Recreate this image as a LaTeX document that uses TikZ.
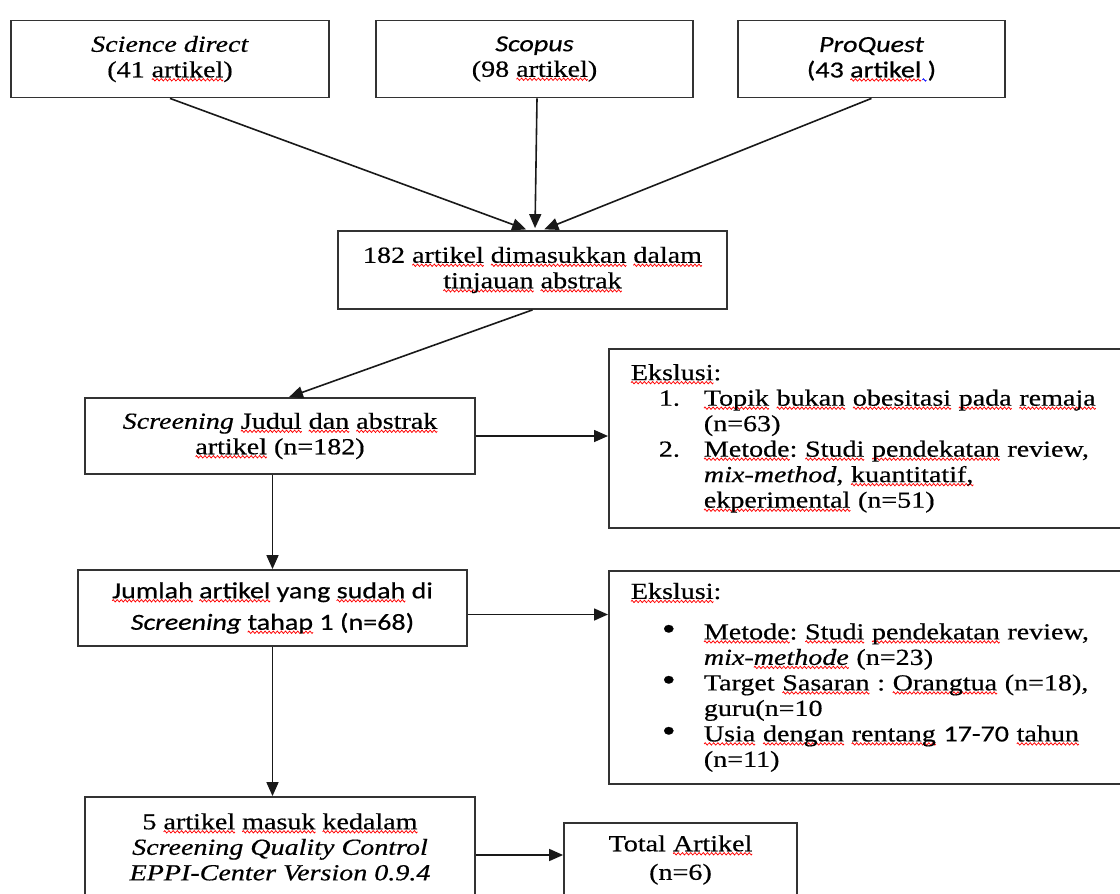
\documentclass[tikz,border=0pt]{standalone}
\usepackage{fontspec}
\setmainfont{Liberation Serif}[FakeStretch=1.22,FakeBold=0.5]
\newfontfamily\sans{Carlito}[FakeStretch=1.22,FakeBold=0.5]
\usepackage{xcolor}
\usetikzlibrary{arrows.meta}
\usetikzlibrary{calc}
\frenchspacing

\newsavebox\wvr
\newsavebox\wvb
\newsavebox\wvt
\newcommand{\wavepiece}[1]{\begin{pgfpicture}
  \pgfpathrectangle{\pgfpoint{0pt}{-1pt}}{\pgfpoint{4pt}{2pt}}\pgfusepath{use as bounding box}
  \pgfsetcolor{#1}\pgfsetlinewidth{0.75pt}
  \pgfpathmoveto{\pgfpoint{0pt}{0pt}}\pgfpathlineto{\pgfpoint{1pt}{1.2pt}}
  \pgfpathlineto{\pgfpoint{3pt}{-1.2pt}}\pgfpathlineto{\pgfpoint{4pt}{0pt}}
  \pgfusepath{stroke}\end{pgfpicture}}
\newcommand{\wv}[1]{\sbox\wvt{#1}\rlap{\lower3.5pt\hbox to\wd\wvt{\xleaders\copy\wvr\hfill}}\usebox\wvt}
\newcommand{\wb}[1]{\sbox\wvt{#1}\rlap{\lower3.5pt\hbox to\wd\wvt{\xleaders\copy\wvb\hfill}}\usebox\wvt}
\newcommand{\bul}{\makebox[45pt][l]{\hspace{3pt}\scalebox{1.4}{\textbullet}}}

\tikzset{
  box/.style={draw=black!80, line width=1.8pt, align=center, inner sep=4pt,
    font=\fontsize{23}{25.5}\selectfont},
  exbox/.style={box, anchor=north west, align=left, inner xsep=22pt,
    minimum width=530pt, text width=486pt},
  arr/.style={draw=black!90, line width=1.6pt, -{Triangle[length=14pt,width=12pt]}},
}

\begin{document}
\sbox\wvr{\wavepiece{red}}
\sbox\wvb{\wavepiece{blue}}
\begin{tikzpicture}[x=1pt,y=-1pt]
  \useasboundingbox (0,0) rectangle (1120,894);
  \fill[white] (0,0) rectangle (1120,894);
  \clip (0,0) rectangle (1120,894);

  \node[box, minimum width=318pt, minimum height=77pt] (sd) at (170,59)
    {\textit{Science direct}\\(41 \wv{artikel})};
  \node[box, minimum width=317pt, minimum height=77pt] (scopus) at (534.5,59)
    {{\sans\itshape Scopus}\\(98 \wv{artikel})};
  \node[box, minimum width=267pt, minimum height=77pt] (proquest) at (871.5,59)
    {{\sans\itshape ProQuest}\\{\sans (43 \wv{artikel}\wb{\ })}};

  \node[box, minimum width=389pt, minimum height=78pt] (abs) at (532.5,270)
    {182 \wv{artikel} \wv{dimasukkan} \wv{dalam}\\\wv{tinjauan} \wv{abstrak}};

  \node[box, minimum width=390pt, minimum height=76pt] (scr) at (280,436)
    {\textit{Screening} \wv{Judul} \wv{dan} \wv{abstrak}\\\wv{artikel} (n=182)};
  \node[exbox, minimum height=179pt] (excl1) at (608,348)
    {\wv{Ekslusi}:\\
     \hspace*{28pt}\makebox[45pt][l]{1.}\wv{Topik} \wv{bukan} \wv{obesitasi} \wv{pada} \wv{remaja}\\
     \hspace*{73pt}(n=63)\\
     \hspace*{28pt}\makebox[45pt][l]{2.}\wv{Metode}: \wv{Studi} \wv{pendekatan} review,\\
     \hspace*{73pt}\textit{mix-method}, \wv{kuantitatif,}\\
     \hspace*{73pt}\wv{ekperimental} (n=51)};

  \node[box, minimum width=389pt, minimum height=76pt, font=\sans\fontsize{23}{25.5}\selectfont] (jml) at (272.5,608)
    {\wv{Jumlah} \wv{artikel} yang \wv{sudah} di\\[6pt]\textit{Screening} \wv{tahap} 1 (n=68)};
  \node[exbox, minimum height=213pt] (excl2) at (608,570)
    {\wv{Ekslusi}:\\[15pt]
     \hspace*{28pt}\bul\wv{Metode}: \wv{Studi} \wv{pendekatan} review,\\
     \hspace*{73pt}\textit{mix-\wv{methode}} (n=23)\\
     \hspace*{28pt}\bul Target \wv{Sasaran} : \wv{Orangtua} (n=18),\\
     \hspace*{73pt}guru(n=10\\
     \hspace*{28pt}\bul\wv{Usia} \wv{dengan} \wv{rentang} {\sans 17-70} \wv{tahun}\\
     \hspace*{73pt}(n=11)};

  \node[box, minimum width=390pt, minimum height=100pt] (qc) at (280,847)
    {5 \wv{artikel} \wv{masuk} \wv{kedalam}\\\textit{Screening Quality Control}\\\textit{EPPI-Center Version 0.9.4}};
  \node[box, minimum width=233pt, minimum height=74pt] (total) at (680.5,860)
    {Total \wv{Artikel}\\[3pt](n=6)};

  \coordinate (qo) at ([yshift=-8pt]qc.east);
  \coordinate (jo) at ([yshift=-6.5pt]jml.east);

  \draw[arr, shorten >=2pt] (sd.south) -- ([xshift=-4.5pt]abs.north);
  \draw[arr, shorten >=2pt] ([xshift=2.5pt]scopus.south) -- ([xshift=2.5pt]abs.north);
  \draw[arr, shorten >=2pt] (proquest.south) -- ([xshift=10pt]abs.north);
  \draw[arr] (abs.south) -- ([xshift=9pt]scr.north);
  \draw[arr] (scr.east) -- (scr.east -| excl1.west);
  \draw[arr] (scr.south -| jml.north) -- (jml.north);
  \draw[arr] (jo) -- (jo -| excl2.west);
  \draw[arr] (jml.south) -- (jml.south |- qc.north);
  \draw[arr] (qo) -- (qo -| total.west);
\end{tikzpicture}
\end{document}
